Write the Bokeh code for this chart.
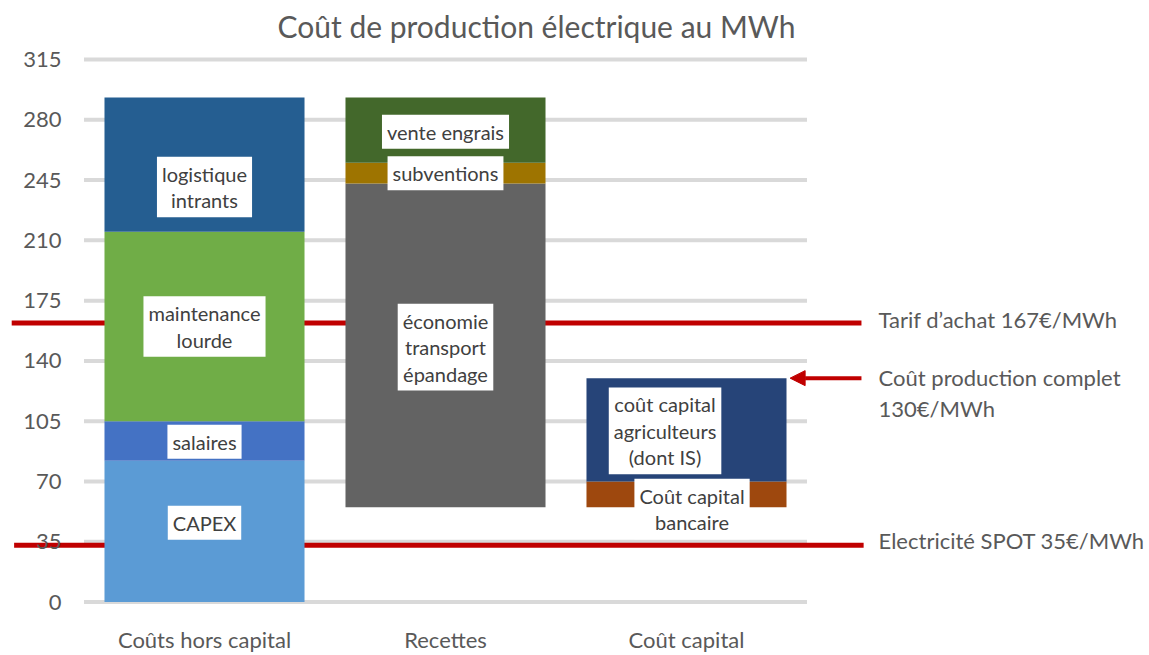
from bokeh.plotting import figure
from bokeh.models import FixedTicker, Arrow, NormalHead, ColumnDataSource
from bokeh.core.properties import value
from bokeh.embed import file_html
from bokeh.resources import INLINE

# ---------------- data ----------------
categories = ["Coûts hors capital", "Recettes", "Coût capital"]
y_ticks = [0, 35, 70, 105, 140, 175, 210, 245, 280, 315]

couts_labels = ["CAPEX", "salaires", "maintenance\nlourde", "logistique\nintrants"]
couts_values = [82, 23, 110, 78]
couts_colors = ["#5b9bd5", "#4472c4", "#70ad47", "#255e91"]

recettes_base = 55
recettes_labels = ["économie\ntransport\népandage", "subventions", "vente engrais"]
recettes_values = [188, 12, 38]
recettes_colors = ["#636363", "#9e7400", "#43682b"]

capital_base = 55
capital_labels = ["Coût capital\nbancaire", "coût capital\nagriculteurs\n(dont IS)"]
capital_values = [15, 60]
capital_colors = ["#9e480e", "#264478"]

tarif_line = 162
spot_line = 33
tarif_text = "Tarif d’achat 167€/MWh"
complet_text = "Coût production complet\n130€/MWh"
spot_text = "Electricité SPOT 35€/MWh"

# label placement (positions only)
couts_label_y = [46, 93, 160, 241]
recettes_label_y = [148, 249, 273]
capital_label_x = [0.023, -0.089]
capital_label_y = [54, 99.4]

FONT = "Lato"
GREY = "#595959"

p = figure(width=1149, height=655, x_range=(-0.8465, 3.9212), y_range=(-5.5, 321.4),
           output_backend="svg", toolbar_location=None,
           min_border_left=0, min_border_right=0, min_border_bottom=0, min_border_top=48,
           title="Coût de production électrique au MWh")
p.outline_line_color = None
p.xgrid.grid_line_color = None
p.ygrid.grid_line_color = None
p.title.text_font = FONT
p.title.text_font_size = "30px"
p.title.text_font_style = "normal"
p.title.text_color = GREY
p.title.align = "left"
p.title.offset = 277

# y axis inside the frame
p.yaxis.fixed_location = -0.552
p.yaxis.ticker = FixedTicker(ticks=y_ticks)
p.yaxis.axis_line_color = None
p.yaxis.major_tick_line_color = None
p.yaxis.major_tick_out = 0
p.yaxis.major_tick_in = 0
p.yaxis.minor_tick_line_color = None
p.yaxis.major_label_text_font = FONT
p.yaxis.major_label_text_font_size = "22px"
p.yaxis.major_label_text_color = GREY
p.yaxis.major_label_standoff = 10

p.xaxis.ticker = FixedTicker(ticks=[0, 1, 2])
p.xaxis.major_label_overrides = {i: c for i, c in enumerate(categories)}
p.xaxis.axis_line_color = None
p.xaxis.major_tick_line_color = None
p.xaxis.major_tick_out = 0
p.xaxis.major_tick_in = 0
p.xaxis.minor_tick_line_color = None
p.xaxis.major_label_text_font = FONT
p.xaxis.major_label_text_font_size = "22px"
p.xaxis.major_label_text_color = GREY
p.xaxis.major_label_standoff = 14

# gridlines
p.segment(x0=[-0.5] * len(y_ticks), x1=[2.5] * len(y_ticks), y0=y_ticks, y1=y_ticks,
          line_color="#d9d9d9", line_width=4)

# red reference lines (behind bars)
p.segment(x0=[-0.8, -0.79], x1=[2.726, 2.735], y0=[tarif_line, spot_line],
          y1=[tarif_line, spot_line], line_color="#c00000", line_width=5)


def stack(idx, base, vals, colors):
    bottoms, tops = [], []
    b = base
    for v in vals:
        bottoms.append(b)
        tops.append(b + v)
        b += v
    src = ColumnDataSource(dict(x=[idx] * len(vals), bottom=bottoms, top=tops, color=colors))
    p.vbar(x="x", bottom="bottom", top="top", width=0.83, fill_color="color",
           line_color=None, source=src)
    return tops[-1]


stack(0, 0, couts_values, couts_colors)
stack(1, recettes_base, recettes_values, recettes_colors)
capital_total = stack(2, capital_base, capital_values, capital_colors)

# in-bar labels
lab_x = [0] * len(couts_labels) + [1] * len(recettes_labels) + [2 + dx for dx in capital_label_x]
lab_y = couts_label_y + recettes_label_y + capital_label_y
lab_t = couts_labels + recettes_labels + capital_labels
p.text(x=lab_x, y=lab_y, text=lab_t, text_font=value(FONT), text_font_size="20px",
       text_color="#404040", text_align="center", text_baseline="middle",
       text_line_height=1.1,
       background_fill_color="white", padding=5)

# arrow to full production cost
p.add_layout(Arrow(end=NormalHead(size=15, fill_color="#c00000", line_color="#c00000"),
                   x_start=2.726, y_start=capital_total, x_end=2.43, y_end=capital_total,
                   line_color="#c00000", line_width=4))

# right annotations
p.text(x=[2.797, 2.797], y=[tarif_line, spot_line], text=[tarif_text, spot_text],
       text_font=value(FONT), text_font_size="22px", text_color=GREY,
       text_align="left", text_baseline="middle", y_offset=[-4, -5])
p.text(x=[2.797], y=[capital_total], text=[complet_text],
       text_font=value(FONT), text_font_size="22px", text_color=GREY,
       text_align="left", text_baseline="top", text_line_height=1.15, y_offset=[-14])

open("out.html", "w").write(file_html(p, INLINE))
